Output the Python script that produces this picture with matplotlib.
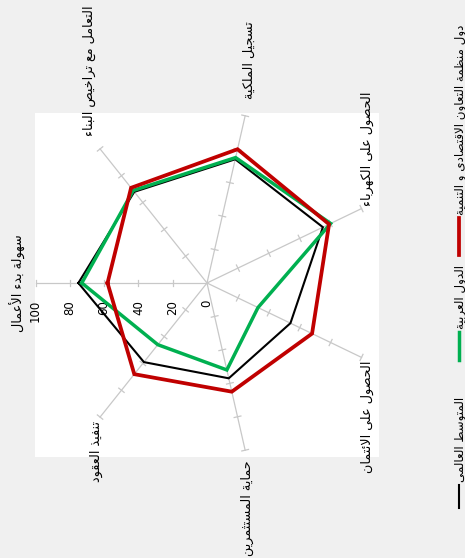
import numpy as np
import matplotlib
matplotlib.use("Agg")
import matplotlib.pyplot as plt
from matplotlib.patches import Rectangle
from matplotlib.lines import Line2D

# ---------------- data ----------------
categories = ['سهولة بدء الأعمال', 'التعامل مع تراخيص البناء', 'تسجيل الملكية',
              'الحصول على الكهرباء', 'الحصول على الائتمان', 'حماية المستثمرين',
              'تنفيذ العقود']
series_names = ['المتوسط العالمي', 'الدول العربية',
                'دول منظمة التعاون الاقتصادي و التنمية']
world_avg = [75, 68, 74, 75, 54, 57, 59]
arab_countries = [73, 69, 75, 80, 33, 52, 46]
oecd = [58, 71, 80, 79, 68, 65, 68]
radial_ticks = [0, 20, 40, 60, 80, 100]

# ---------------- minimal Arabic shaping ----------------
FOUR = {0x0626: 0xFE89, 0x0628: 0xFE8F, 0x062A: 0xFE95, 0x062B: 0xFE99,
        0x062C: 0xFE9D, 0x062D: 0xFEA1, 0x062E: 0xFEA5, 0x0633: 0xFEB1,
        0x0634: 0xFEB5, 0x0635: 0xFEB9, 0x0636: 0xFEBD, 0x0637: 0xFEC1,
        0x0638: 0xFEC5, 0x0639: 0xFEC9, 0x063A: 0xFECD, 0x0641: 0xFED1,
        0x0642: 0xFED5, 0x0643: 0xFED9, 0x0644: 0xFEDD, 0x0645: 0xFEE1,
        0x0646: 0xFEE5, 0x0647: 0xFEE9, 0x064A: 0xFEF1}
TWO = {0x0622: 0xFE81, 0x0623: 0xFE83, 0x0624: 0xFE85, 0x0625: 0xFE87,
       0x0627: 0xFE8D, 0x0629: 0xFE93, 0x062F: 0xFEA9, 0x0630: 0xFEAB,
       0x0631: 0xFEAD, 0x0632: 0xFEAF, 0x0648: 0xFEED, 0x0649: 0xFEEF}
LAMALEF = {0x0627: (0xFEFB, 0xFEFC), 0x0623: (0xFEF7, 0xFEF8),
           0x0625: (0xFEF9, 0xFEFA), 0x0622: (0xFEF5, 0xFEF6)}


def shape(s):
    cps = [ord(c) for c in s]
    toks = []
    i = 0
    while i < len(cps):
        c = cps[i]
        if c == 0x0644 and i + 1 < len(cps) and cps[i + 1] in LAMALEF:
            toks.append(('LA', cps[i + 1]))
            i += 2
        else:
            toks.append((c, None))
            i += 1

    def dual(t):
        return t[0] in FOUR

    def joins(t):
        return t[0] == 'LA' or t[0] in FOUR or t[0] in TWO

    out = []
    for j, t in enumerate(toks):
        prev = toks[j - 1] if j > 0 else None
        nxt = toks[j + 1] if j + 1 < len(toks) else None
        jp = prev is not None and dual(prev) and joins(t)
        if t[0] == 'LA':
            iso, fin = LAMALEF[t[1]]
            out.append(chr(fin if jp else iso))
            continue
        c = t[0]
        if c in FOUR:
            jn = nxt is not None and joins(nxt)
            idx = (3 if jn else 1) if jp else (2 if jn else 0)
            out.append(chr(FOUR[c] + idx))
        elif c in TWO:
            out.append(chr(TWO[c] + (1 if jp else 0)))
        elif c == 0x0621:
            out.append(chr(0xFE80))
        else:
            out.append(chr(c))
    return ''.join(reversed(out))


# ---------------- figure ----------------
W, H, DPI = 465, 558, 100
fig = plt.figure(figsize=(W / DPI, H / DPI), dpi=DPI, facecolor='#f0f0f0')
plt.rcParams['font.family'] = ['DejaVu Sans']


def fx(px):
    return px / W


def fy(py):
    return 1 - py / H


# white plot area (behind everything)
fig.patches.append(Rectangle((fx(35), fy(457)), fx(379) - fx(35), fy(113) - fy(457),
                             transform=fig.transFigure, facecolor='white',
                             edgecolor='none', zorder=-10))

cx, cy, R = 207, 283, 171.5
ax = fig.add_axes([fx(cx - R), fy(cy + R), 2 * R / W, 2 * R / H], projection='polar')
ax.set_zorder(1)
ax.set_theta_zero_location('W')
ax.set_theta_direction(-1)
ax.set_ylim(0, 100)
ax.patch.set_visible(False)
ax.grid(False)
ax.spines['polar'].set_visible(False)
ax.set_xticks([])
ax.set_yticks([])

n = len(categories)
angles = np.arange(n) * 2 * np.pi / n
grid_col = '#c8c8c8'

# spokes with tick marks
half = 2.0
for th in angles:
    ax.plot([th, th], [0, 100], color=grid_col, lw=0.9, zorder=1, clip_on=False)
    for r in radial_ticks[1:]:
        d = np.arctan2(half, r)
        rr = np.hypot(r, half)
        ax.plot([th - d, th + d], [rr, rr], color=grid_col, lw=0.9, zorder=1,
                clip_on=False)

# radial labels along first spoke
for r in radial_ticks:
    ax.annotate(str(r), xy=(angles[0], r), xytext=(0, -17),
                textcoords='offset pixels', rotation=90, ha='center', va='top',
                fontsize=8.5, color='black', zorder=2)

# series
def closed(v):
    return np.append(angles, angles[0]), np.append(v, v[0])

for vals, col, lw in [(world_avg, 'black', 1.5),
                      (arab_countries, '#00b050', 2.5),
                      (oecd, '#c00000', 2.7)]:
    t, v = closed(vals)
    ax.plot(t, v, color=col, lw=lw, zorder=3, clip_on=False,
            solid_joinstyle='miter')

# category labels (rotated with the chart)
label_fs = 9.2
specs = [(110, 'center', 'center'), (110, 'center', 'bottom'),
         (110, 'center', 'bottom'), (104, 'center', 'bottom'),
         (104, 'center', 'top'), (106, 'center', 'top'), (103, 'center', 'top')]
for th, lab, (r, ha, va) in zip(angles, categories, specs):
    ax.text(th, r, shape(lab), rotation=90, ha=ha, va=va, fontsize=label_fs,
            color='black', clip_on=False)

# legend (rotated column on the right)
lx = 459
legend_fs = 8.6
legend_items = [(series_names[2], '#c00000', 2.7, 25, 37),
                (series_names[1], '#00b050', 2.5, 265, 28),
                (series_names[0], 'black', 1.5, 397, 23)]
fig.canvas.draw()
renderer = fig.canvas.get_renderer()
for name, col, lw, ty, ll in legend_items:
    txt = fig.text(fx(lx + 1), fy(ty), shape(name), rotation=90, ha='center',
                   va='top', fontsize=legend_fs, color='black')
    bb = txt.get_window_extent(renderer)
    end_py = H - bb.y0 + 3
    fig.add_artist(Line2D([fx(lx), fx(lx)], [fy(end_py), fy(end_py + ll)],
                          color=col, lw=lw, transform=fig.transFigure))

fig.savefig('out.png', dpi=DPI, facecolor=fig.get_facecolor())
